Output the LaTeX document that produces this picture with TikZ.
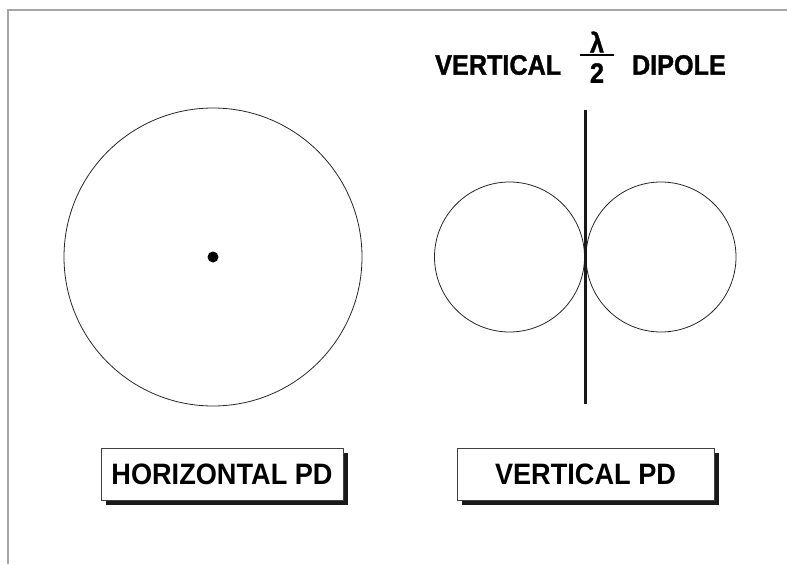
\documentclass[tikz,border=0pt]{standalone}
\usepackage{fontspec}
\setmainfont{Liberation Sans}
\newfontfamily\heavy[FakeStretch=0.9, FakeBold=1.2]{Liberation Sans Bold}
\newfontfamily\boxfont[FakeStretch=0.92]{Liberation Sans Bold}
\usetikzlibrary{shadows}
\begin{document}
\begin{tikzpicture}[x=1pt,y=-1pt,
  ttl/.style={font=\heavy\fontsize{28}{32}\selectfont, inner sep=0pt},
  pdbox/.style={draw=black!75, line width=0.8pt, fill=white, minimum height=52pt, inner sep=0pt,
    font=\boxfont\fontsize{29.5}{34}\selectfont,
    drop shadow={shadow xshift=5pt, shadow yshift=-5pt, fill=black!90, opacity=1}},
  pat/.style={draw=black!85, line width=0.8pt, circle, inner sep=0pt},
  ant/.style={line width=3pt, black!90}]
\useasboundingbox (0,0) rectangle (787,565);
\draw[gray!70, line width=1.6pt] (787,10) -- (8,10) -- (8,564);
% left pattern
\node[pat, minimum size=298pt] (big) at (213,257) {};
\node[circle, fill=black, minimum size=11pt, inner sep=0pt] (dot) at (213,257) {};
% right pattern
\node[pat, minimum size=150pt] (lobeL) at (509.5,257) {};
\node[pat, minimum size=150pt] (lobeR) at (661,257) {};
\coordinate (antT) at (585,110);
\coordinate (antB) at (585,404);
\draw[ant] (antT) -- (antB);
% title
\node[ttl, anchor=west] (tv) at (435,65) {VERTICAL};
\node[ttl] (lam) at (597,42) {λ};
\node[ttl] (two) at (597,73) {2};
\coordinate (barL) at (580,55);
\coordinate (barR) at (614,55);
\draw[line width=2pt] (barL) -- (barR);
\node[ttl, anchor=east] (td) at (726,65) {DIPOLE};
% boxes
\node[pdbox, minimum width=242pt] (hpd) at (222,474) {HORIZONTAL PD};
\node[pdbox, minimum width=257pt] (vpd) at (585.5,474) {VERTICAL PD};
\end{tikzpicture}
\end{document}
